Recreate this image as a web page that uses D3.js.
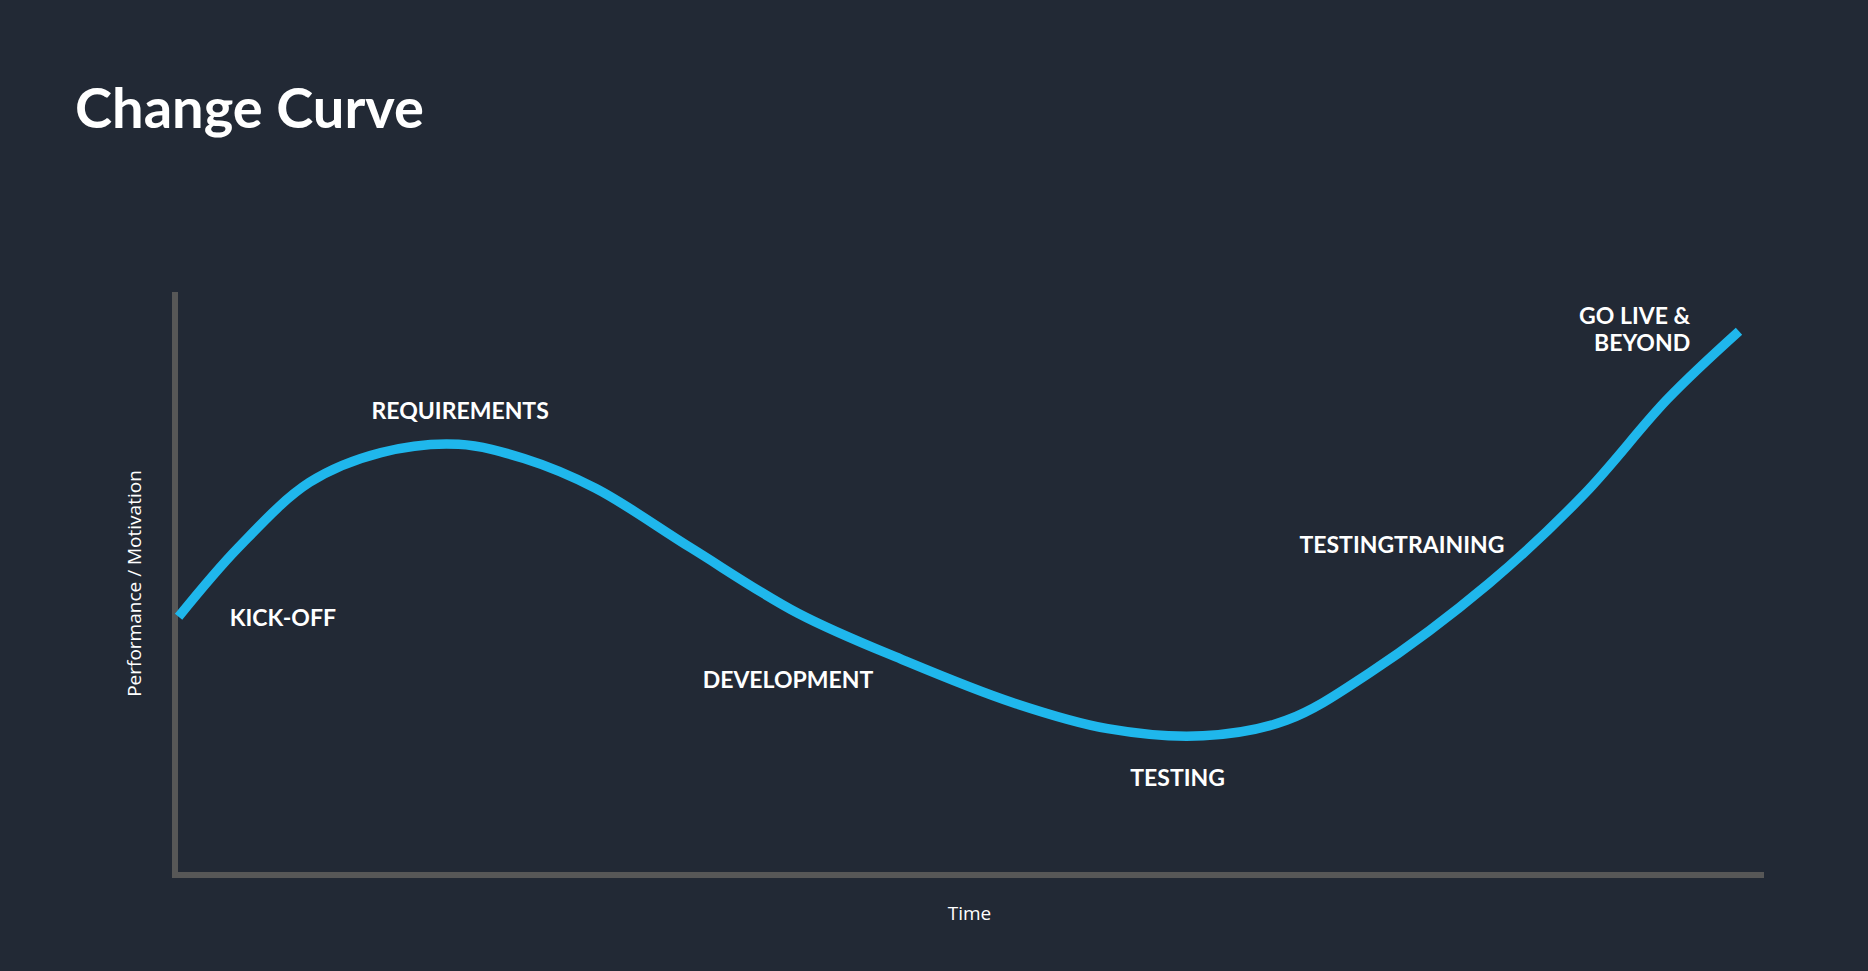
<!DOCTYPE html>
<html><head><meta charset="utf-8">
<script src="https://cdn.jsdelivr.net/npm/d3@7"></script>
<style>html,body{margin:0;padding:0;background:#222935;overflow:hidden}</style>
</head><body>
<svg id="c" width="1868" height="971"></svg>
<script>
const title = "Change Curve";
const xTitle = "Time";
const yTitle = "Performance / Motivation";
// curve: time, performance (arbitrary units)
const curveTime = [3,53,113,173,238,293,353,433,523,613,703,783,863,933,1003,1103,1183,1253,1313];
const curvePerf = [217,275,330,355,362,350,325,275,220,180,145,123,117,130,170,245,320,400,457];
const labels = ["KICK-OFF","REQUIREMENTS","DEVELOPMENT","TESTING","TESTINGTRAINING","GO LIVE &","BEYOND"];
const labelTime = [46,165,443,802,944,1272,1272];
const labelPerf = [209,383,157,75,271,463,440];
const labelAnchor = ["start","start","start","start","start","end","end"];

const svg = d3.select("#c");
const x = d3.scaleLinear().domain([0,1334]).range([175,1764]);
const y = d3.scaleLinear().domain([0,490]).range([875,292]);

svg.append("text").attr("x",75).attr("y",128).attr("fill","#fff")
  .attr("font-family","Lato, sans-serif").attr("font-weight",700).attr("font-size",56).text(title);

const axisColor="#575757";
svg.append("line").attr("x1",x(0)).attr("x2",x(0)).attr("y1",y(490)).attr("y2",y(0)+3)
  .attr("stroke",axisColor).attr("stroke-width",6);
svg.append("line").attr("x1",x(0)-3).attr("x2",x(1334)).attr("y1",y(0)).attr("y2",y(0))
  .attr("stroke",axisColor).attr("stroke-width",6);

svg.append("text").attr("x",(x(0)+x(1334))/2).attr("y",920).attr("text-anchor","middle")
  .attr("fill","#fff").attr("font-family","'Open Sans', sans-serif").attr("font-size",19).text(xTitle);
svg.append("text").attr("transform",`translate(141,${y(245)}) rotate(-90)`).attr("text-anchor","middle")
  .attr("fill","#fff").attr("font-family","'Open Sans', sans-serif").attr("font-size",19).text(yTitle);

const pts = curveTime.map((t,i)=>[t,curvePerf[i]]);
svg.append("path").attr("d",d3.line().x(d=>x(d[0])).y(d=>y(d[1])).curve(d3.curveCatmullRom)(pts))
  .attr("fill","none").attr("stroke","#1fb7ec").attr("stroke-width",9.5);

labels.forEach((l,i)=>{
  svg.append("text").attr("x",x(labelTime[i])).attr("y",y(labelPerf[i])).attr("text-anchor",labelAnchor[i])
    .attr("fill","#fff").attr("font-family","Lato, sans-serif").attr("font-weight",700).attr("font-size",23).text(l);
});
</script>
</body></html>
